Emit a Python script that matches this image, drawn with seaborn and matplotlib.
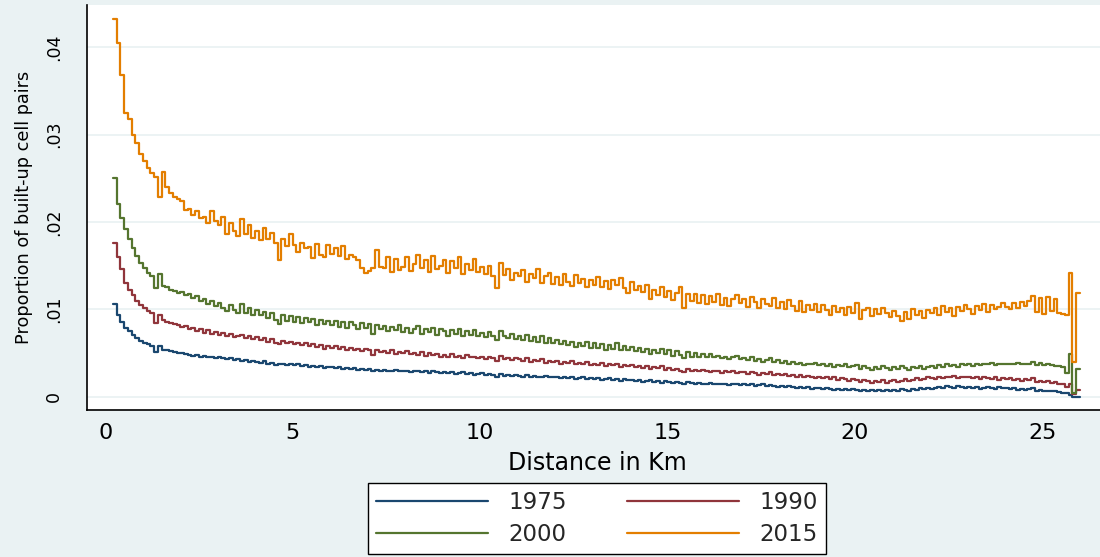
import numpy as np
import pandas as pd
import matplotlib
matplotlib.use("Agg")
import matplotlib.pyplot as plt
from matplotlib.lines import Line2D
import seaborn as sns

# ---------------------------------------------------------------------------
# Proportion of built-up cell pairs by distance (0.1 km bins, 0.2 .. 26.0 km)
# Each row below covers one kilometre (first row starts at 0.2 km).
# ---------------------------------------------------------------------------
share_1975 = [
    .0106, .0094, .0086, .0079, .0075, .0071, .0067, .0064,
    .0062, .0060, .0058, .0051, .0058, .0054, .0053, .0052, .0051, .0050,
    .0050, .0049, .0048, .0047, .0048, .0046, .0047, .0045, .0046, .0044,
    .0045, .0044, .0043, .0044, .0042, .0043, .0041, .0042, .0040, .0041,
    .0040, .0039, .0041, .0038, .0039, .0036, .0037, .0038, .0036, .0037,
    .0036, .0037, .0035, .0036, .0034, .0035, .0034, .0035, .0033, .0034,
    .0034, .0033, .0034, .0032, .0033, .0032, .0033, .0031, .0032, .0031,
    .0032, .0029, .0031, .0030, .0031, .0029, .0030, .0031, .0029, .0030,
    .0030, .0028, .0029, .0030, .0028, .0029, .0027, .0029, .0028, .0027,
    .0028, .0027, .0028, .0026, .0027, .0028, .0026, .0027, .0025, .0026,
    .0027, .0025, .0026, .0025, .0023, .0026, .0024, .0025, .0024, .0025,
    .0024, .0023, .0025, .0023, .0024, .0022, .0023, .0024, .0022, .0023,
    .0022, .0021, .0023, .0021, .0022, .0020, .0021, .0022, .0020, .0021,
    .0020, .0021, .0019, .0020, .0021, .0019, .0020, .0018, .0020, .0019,
    .0019, .0018, .0019, .0017, .0018, .0019, .0017, .0018, .0016, .0018,
    .0017, .0016, .0017, .0016, .0015, .0017, .0016, .0015, .0016, .0015,
    .0015, .0016, .0014, .0015, .0014, .0015, .0013, .0014, .0015, .0013,
    .0014, .0013, .0014, .0012, .0013, .0014, .0012, .0013, .0012, .0011,
    .0012, .0011, .0012, .0011, .0010, .0011, .0010, .0011, .0009, .0010,
    .0010, .0009, .0010, .0009, .0008, .0009, .0008, .0009, .0008, .0009,
    .0008, .0007, .0008, .0007, .0008, .0006, .0008, .0007, .0008, .0007,
    .0008, .0007, .0009, .0008, .0007, .0009, .0008, .0010, .0009, .0010,
    .0009, .0010, .0011, .0010, .0012, .0011, .0010, .0012, .0011, .0010,
    .0011, .0010, .0011, .0009, .0010, .0011, .0010, .0009, .0011, .0010,
    .0010, .0009, .0010, .0008, .0009, .0008, .0009, .0010, .0007, .0008,
    .0007, .0006, .0007, .0006, .0005, .0004, .0004, .0002, .0000, .0000,
    .0000,
]

share_1990 = [
    .0176, .0160, .0146, .0130, .0122, .0116, .0109, .0105,
    .0101, .0098, .0096, .0084, .0094, .0088, .0086, .0084, .0083, .0082,
    .0080, .0081, .0077, .0079, .0075, .0077, .0073, .0076, .0072, .0074,
    .0071, .0073, .0069, .0072, .0068, .0070, .0071, .0067, .0069, .0066,
    .0068, .0065, .0067, .0063, .0066, .0062, .0060, .0064, .0061, .0063,
    .0060, .0062, .0059, .0061, .0058, .0060, .0057, .0059, .0055, .0058,
    .0056, .0058, .0055, .0057, .0054, .0056, .0053, .0055, .0052, .0055,
    .0054, .0048, .0053, .0051, .0052, .0050, .0053, .0049, .0051, .0050,
    .0052, .0049, .0050, .0048, .0051, .0047, .0050, .0048, .0049, .0046,
    .0048, .0046, .0049, .0045, .0047, .0044, .0048, .0045, .0046, .0044,
    .0046, .0043, .0045, .0044, .0041, .0047, .0043, .0044, .0042, .0044,
    .0043, .0041, .0044, .0040, .0042, .0041, .0043, .0039, .0041, .0040,
    .0041, .0038, .0040, .0039, .0041, .0037, .0039, .0038, .0040, .0036,
    .0038, .0036, .0039, .0035, .0037, .0036, .0038, .0034, .0036, .0035,
    .0036, .0034, .0035, .0033, .0035, .0032, .0034, .0033, .0035, .0031,
    .0033, .0031, .0032, .0030, .0028, .0032, .0030, .0031, .0029, .0031,
    .0030, .0028, .0030, .0029, .0027, .0029, .0028, .0030, .0027, .0028,
    .0028, .0026, .0028, .0027, .0025, .0027, .0026, .0028, .0025, .0026,
    .0025, .0026, .0024, .0025, .0023, .0025, .0022, .0024, .0023, .0021,
    .0023, .0021, .0022, .0020, .0022, .0019, .0021, .0020, .0018, .0020,
    .0019, .0017, .0019, .0018, .0016, .0018, .0017, .0019, .0016, .0018,
    .0019, .0017, .0018, .0020, .0018, .0019, .0021, .0019, .0020, .0022,
    .0021, .0020, .0022, .0021, .0023, .0022, .0024, .0021, .0023, .0022,
    .0023, .0021, .0022, .0020, .0022, .0021, .0020, .0022, .0019, .0021,
    .0020, .0021, .0019, .0020, .0018, .0020, .0019, .0021, .0017, .0018,
    .0017, .0018, .0016, .0017, .0015, .0014, .0011, .0015, .0003, .0008,
    .0008,
]

share_2000 = [
    .0250, .0220, .0205, .0192, .0180, .0170, .0161, .0153,
    .0147, .0142, .0138, .0124, .0141, .0127, .0125, .0122, .0121, .0119,
    .0120, .0116, .0118, .0113, .0115, .0110, .0112, .0106, .0109, .0104,
    .0107, .0101, .0098, .0105, .0099, .0096, .0106, .0096, .0101, .0094,
    .0099, .0093, .0097, .0090, .0096, .0088, .0083, .0094, .0087, .0092,
    .0086, .0091, .0084, .0090, .0085, .0089, .0082, .0088, .0083, .0087,
    .0082, .0087, .0080, .0086, .0079, .0085, .0082, .0078, .0084, .0079,
    .0083, .0072, .0082, .0077, .0081, .0075, .0080, .0076, .0082, .0074,
    .0079, .0073, .0078, .0081, .0072, .0077, .0074, .0079, .0071, .0077,
    .0075, .0070, .0076, .0072, .0077, .0069, .0075, .0071, .0076, .0069,
    .0073, .0068, .0074, .0069, .0065, .0075, .0069, .0067, .0072, .0066,
    .0070, .0065, .0071, .0064, .0068, .0063, .0069, .0062, .0067, .0061,
    .0065, .0060, .0064, .0059, .0063, .0057, .0062, .0058, .0063, .0056,
    .0061, .0056, .0060, .0054, .0059, .0055, .0061, .0053, .0058, .0054,
    .0057, .0052, .0056, .0051, .0055, .0049, .0054, .0050, .0055, .0049,
    .0053, .0047, .0052, .0048, .0044, .0051, .0046, .0050, .0045, .0049,
    .0046, .0049, .0045, .0047, .0044, .0046, .0043, .0045, .0047, .0043,
    .0044, .0042, .0045, .0041, .0043, .0040, .0042, .0044, .0040, .0042,
    .0039, .0041, .0038, .0040, .0037, .0039, .0036, .0038, .0037, .0039,
    .0036, .0038, .0035, .0037, .0034, .0036, .0035, .0037, .0034, .0035,
    .0036, .0032, .0035, .0033, .0031, .0034, .0032, .0035, .0033, .0031,
    .0034, .0032, .0035, .0033, .0031, .0034, .0033, .0035, .0032, .0034,
    .0035, .0033, .0036, .0034, .0037, .0035, .0036, .0034, .0037, .0036,
    .0037, .0035, .0038, .0036, .0038, .0037, .0039, .0036, .0038, .0037,
    .0038, .0037, .0038, .0039, .0037, .0038, .0038, .0040, .0036, .0039,
    .0036, .0037, .0036, .0035, .0035, .0034, .0027, .0049, .0004, .0032,
    .0032,
]

share_2015 = [
    .0432, .0405, .0368, .0325, .0318, .0300, .0290, .0278,
    .0270, .0262, .0256, .0251, .0228, .0257, .0240, .0233, .0229, .0226,
    .0224, .0214, .0215, .0208, .0212, .0204, .0206, .0199, .0212, .0201,
    .0197, .0206, .0186, .0199, .0190, .0184, .0203, .0186, .0196, .0182,
    .0190, .0179, .0193, .0181, .0187, .0176, .0157, .0181, .0172, .0186,
    .0174, .0166, .0176, .0170, .0171, .0159, .0175, .0162, .0160, .0174,
    .0163, .0170, .0161, .0172, .0158, .0162, .0160, .0156, .0147, .0142,
    .0144, .0147, .0168, .0149, .0147, .0160, .0143, .0158, .0145, .0149,
    .0160, .0144, .0152, .0162, .0147, .0156, .0143, .0161, .0146, .0150,
    .0157, .0142, .0155, .0147, .0160, .0140, .0152, .0145, .0158, .0143,
    .0148, .0141, .0150, .0138, .0124, .0153, .0139, .0146, .0134, .0142,
    .0138, .0145, .0131, .0141, .0136, .0146, .0130, .0138, .0142, .0129,
    .0137, .0128, .0140, .0131, .0127, .0139, .0130, .0135, .0126, .0134,
    .0128, .0137, .0125, .0132, .0123, .0134, .0128, .0136, .0124, .0119,
    .0131, .0122, .0127, .0120, .0128, .0112, .0122, .0116, .0126, .0114,
    .0121, .0111, .0119, .0125, .0101, .0117, .0109, .0118, .0107, .0116,
    .0106, .0115, .0108, .0117, .0105, .0113, .0104, .0112, .0116, .0107,
    .0112, .0103, .0114, .0108, .0102, .0112, .0106, .0104, .0113, .0102,
    .0108, .0100, .0111, .0104, .0098, .0109, .0097, .0105, .0099, .0106,
    .0097, .0105, .0099, .0094, .0104, .0097, .0102, .0094, .0103, .0096,
    .0107, .0089, .0099, .0102, .0092, .0100, .0095, .0101, .0096, .0091,
    .0098, .0092, .0087, .0097, .0089, .0100, .0093, .0098, .0090, .0099,
    .0096, .0102, .0093, .0104, .0097, .0101, .0092, .0103, .0098, .0105,
    .0100, .0095, .0104, .0099, .0106, .0097, .0105, .0100, .0103, .0107,
    .0103, .0100, .0107, .0102, .0108, .0104, .0109, .0115, .0097, .0113,
    .0095, .0114, .0098, .0112, .0096, .0095, .0094, .0142, .0040, .0119,
    .0119,
]

# Distance bins in km: 0.2, 0.3, ..., 26.0
distance_km = np.round(np.arange(2, 261) / 10, 1)

years = ["1975", "1990", "2000", "2015"]
series = [share_1975, share_1990, share_2000, share_2015]
colors = ["#1a476f", "#90353b", "#55752f", "#e37e00"]

x_ticks = [0, 5, 10, 15, 20, 25]
y_ticks = [0.0, 0.01, 0.02, 0.03, 0.04]
y_tick_labels = ["0", ".01", ".02", ".03", ".04"]

df = pd.concat(
    [pd.DataFrame({"distance": distance_km, "share": vals, "year": yr})
     for yr, vals in zip(years, series)],
    ignore_index=True,
)

# ---------------------------------------------------------------------------
sns.set_theme(style="white")
plt.rcParams["font.family"] = ["DejaVu Sans"]

bg = "#eaf2f3"
fig = plt.figure(figsize=(11.0, 5.57), dpi=100, facecolor=bg)
ax = fig.add_axes([87 / 1100, 1 - 410 / 557, 1013 / 1100, 405 / 557])
ax.set_facecolor("white")

for yv in y_ticks:
    ax.axhline(yv, color=bg, lw=1.3, zorder=0)

sns.lineplot(
    data=df, x="distance", y="share", hue="year", hue_order=years,
    palette=dict(zip(years, colors)), estimator=None, sort=True,
    drawstyle="steps-post", linewidth=1.6, legend=False, ax=ax, zorder=3,
)

ax.set_xlim(-0.488, 26.54)
ax.set_ylim(-0.00152, 0.04483)
ax.set_xticks(x_ticks)
ax.set_xticklabels([str(t) for t in x_ticks])
ax.set_yticks(y_ticks)
ax.set_yticklabels(y_tick_labels, rotation=90, va="center")

for side in ("top", "right"):
    ax.spines[side].set_visible(False)
for side in ("left", "bottom"):
    ax.spines[side].set_color("black")
    ax.spines[side].set_linewidth(1.2)

ax.tick_params(axis="x", length=6.5, width=1.0, color="#333333",
               labelsize=16, pad=3, labelcolor="black")
ax.tick_params(axis="y", length=9.5, width=1.0, color="#333333",
               labelsize=12.5, pad=8, labelcolor="black")

ax.set_xlabel("Distance in Km", fontsize=17, color="black")
ax.xaxis.set_label_coords(0.504, -0.100)
ax.set_ylabel("Proportion of built-up cell pairs", fontsize=12.7, color="black")
ax.yaxis.set_label_coords(-0.053, 0.5)

# Two-by-two legend box below the plot region
order = [0, 2, 1, 3]
handles = [Line2D([], [], color=colors[i], lw=1.6) for i in order]
labels = [years[i] for i in order]
leg = fig.legend(
    handles, labels, loc="center",
    bbox_to_anchor=(597 / 1100, 1 - 518.5 / 557), bbox_transform=fig.transFigure,
    ncol=2, frameon=True, fancybox=False, shadow=False, framealpha=1,
    facecolor="white", edgecolor="black", fontsize=16.5,
    handlelength=4.9, handletextpad=0.9, columnspacing=2.6,
    borderpad=0.35, labelspacing=0.4,
)
leg.get_frame().set_linewidth(1.0)

fig.savefig("out.png", dpi=100, facecolor=bg)
